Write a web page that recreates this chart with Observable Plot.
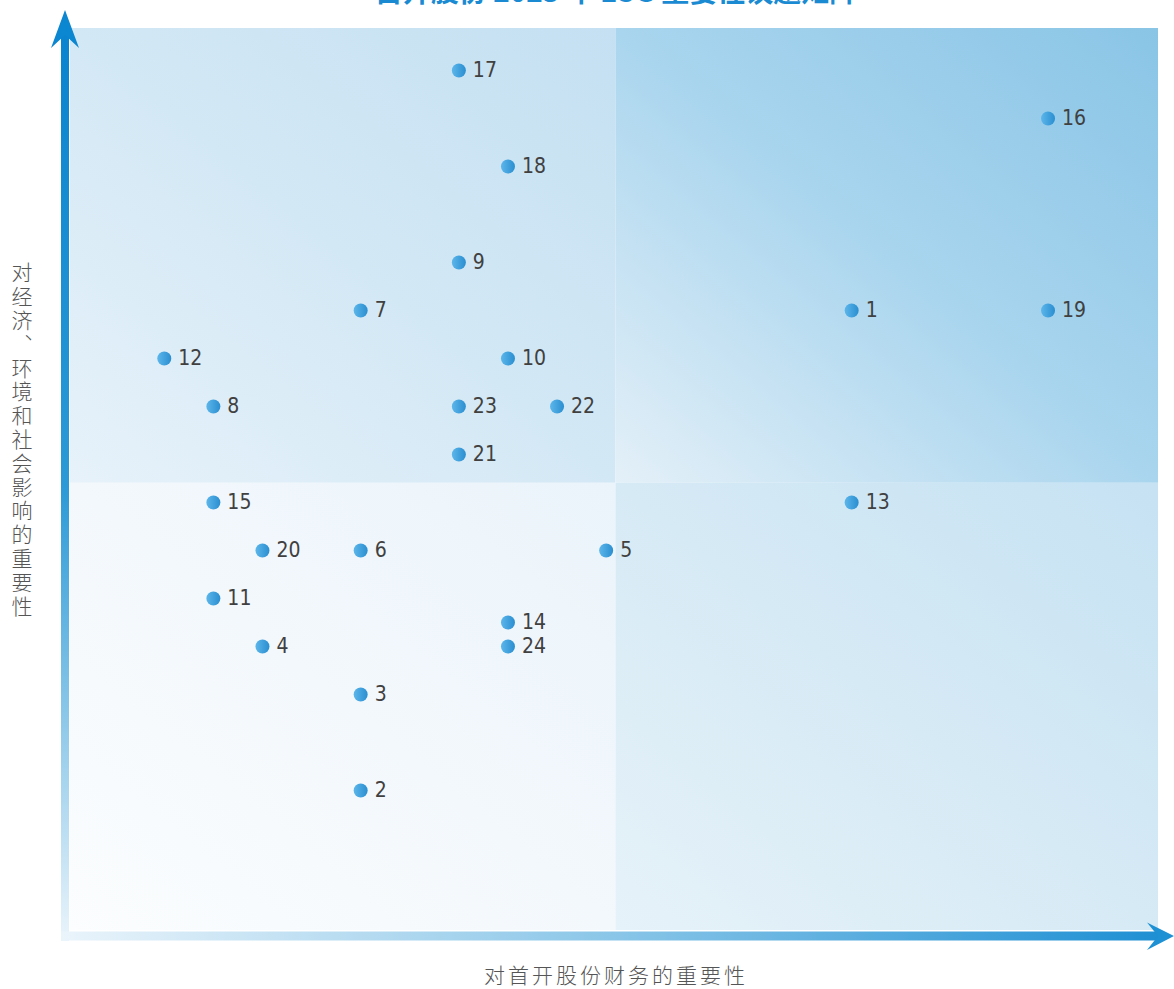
<!DOCTYPE html>
<html><head><meta charset="utf-8">
<script src="https://cdn.jsdelivr.net/npm/d3@7"></script>
<script src="https://cdn.jsdelivr.net/npm/@observablehq/plot@0.6"></script>
<style>
html,body{margin:0;padding:0;background:#fff;overflow:hidden}
#wrap{position:relative;width:1174px;height:989px}
#title{position:absolute;left:0;width:1232px;top:-24px;text-align:center;font:bold 28px/28px "Noto Sans CJK SC","Noto Sans",sans-serif;color:#1a8bd2;white-space:nowrap}
#ylab{position:absolute;left:11px;top:262px;writing-mode:vertical-rl;text-orientation:upright;font:300 21px/22px "Noto Sans CJK SC",sans-serif;letter-spacing:2.8px;color:#555}
#xlab{position:absolute;left:0;width:1232px;top:963px;text-align:center;font:300 21px/22px "Noto Sans CJK SC",sans-serif;letter-spacing:3px;color:#555;white-space:nowrap}
</style></head>
<body><div id="wrap"></div>
<script>
const titleText = "首开股份 2023 年 ESG 重要性议题矩阵";
const xLabel = "对首开股份财务的重要性";
const yLabel = "对经济、环境和社会影响的重要性";

const topicIds        = [1, 2, 3, 4, 5, 6, 7, 8, 9, 10, 11, 12, 13, 14, 15, 16, 17, 18, 19, 20, 21, 22, 23, 24];
const financialImp    = [16, 6, 6, 4, 11, 6, 6, 3, 8, 9, 3, 2, 16, 9, 3, 20, 8, 9, 20, 4, 8, 10, 8, 9];
const impactImp       = [13, 3, 5, 6, 8, 8, 13, 11, 14, 12, 7, 12, 9, 6.5, 9, 17, 18, 16, 13, 8, 10, 11, 11, 6];

const xDomain = [0.09, 22.25];
const yDomain = [0.083, 18.875];
const xSplit = 11.2;
const ySplit = 9.4;

const points = topicIds.map((id, i) => ({id, x: financialImp[i], y: impactImp[i]}));
const quadrants = [
  {q: "tl", x1: xDomain[0], x2: xSplit, y1: ySplit, y2: yDomain[1]},
  {q: "tr", x1: xSplit, x2: xDomain[1], y1: ySplit, y2: yDomain[1]},
  {q: "bl", x1: xDomain[0], x2: xSplit, y1: yDomain[0], y2: ySplit},
  {q: "br", x1: xSplit, x2: xDomain[1], y1: yDomain[0], y2: ySplit}
];

const gradients = [
  {id: "g-tl", x1: 0, y1: 1, x2: 1, y2: 0, stops: [[0, "#e7f2fa"], [0.5, "#d3e8f5"], [1, "#c4e0f2"]]},
  {id: "g-tr", x1: 0, y1: 1, x2: 1, y2: 0, stops: [[0, "#e4f0f8"], [0.5, "#a9d5ee"], [1, "#8ac5e6"]]},
  {id: "g-bl", x1: 0, y1: 1, x2: 1, y2: 0, stops: [[0, "#fbfdfe"], [0.5, "#f3f8fc"], [1, "#ebf4fb"]]},
  {id: "g-br", x1: 0, y1: 1, x2: 1, y2: 0, stops: [[0, "#e6f2f9"], [0.5, "#d6eaf5"], [1, "#c6e2f3"]]},
  {id: "g-dot", x1: 0, y1: 0, x2: 1, y2: 0, stops: [[0, "#5cb6ea"], [1, "#2a8ed0"]]},
  {id: "g-vax", x1: 0, y1: 0, x2: 0, y2: 1, stops: [[0, "#0a84cf"], [0.5, "#2b9ad6"], [1, "#eaf4fb"]]},
  {id: "g-hax", x1: 0, y1: 0, x2: 1, y2: 0, stops: [[0, "#eaf4fb"], [0.5, "#8ac6e8"], [1, "#1e8fd3"]]}
];

function defsMark() {
  const g = d3.create("svg:g");
  const defs = g.append("defs");
  for (const gr of gradients) {
    const lg = defs.append("linearGradient").attr("id", gr.id)
      .attr("x1", gr.x1).attr("y1", gr.y1).attr("x2", gr.x2).attr("y2", gr.y2);
    for (const [o, c] of gr.stops) lg.append("stop").attr("offset", o).attr("stop-color", c);
  }
  return g.node();
}

function axesMark(index, scales, values, dim) {
  const X = scales.x, Y = scales.y;
  const left = X(xDomain[0]), right = X(xDomain[1]);
  const top = Y(yDomain[1]), bottom = Y(yDomain[0]);
  const g = d3.create("svg:g");
  const vx = left - 5;
  const hy = bottom + 6;
  g.append("rect").attr("x", vx - 4).attr("y", top + 6).attr("width", 8).attr("height", hy + 5 - (top + 6)).attr("fill", "url(#g-vax)");
  g.append("rect").attr("x", vx - 4).attr("y", hy - 4.5).attr("width", right + 3 - (vx - 4)).attr("height", 9).attr("fill", "url(#g-hax)");
  const tipY = top - 18;
  g.append("path").attr("d", `M${vx},${tipY}L${vx + 14},${tipY + 38}L${vx},${tipY + 25}L${vx - 14},${tipY + 38}Z`).attr("fill", "#0b86d0");
  const tipX = dim.width;
  g.append("path").attr("d", `M${tipX},${hy}L${tipX - 27},${hy - 13.5}L${tipX - 16},${hy}L${tipX - 27},${hy + 14}Z`).attr("fill", "#1e90d4");
  return g.node();
}

const plot = Plot.plot({
  width: 1174,
  height: 989,
  marginLeft: 70,
  marginRight: 16,
  marginTop: 28,
  marginBottom: 59,
  x: {domain: xDomain, axis: null},
  y: {domain: yDomain, axis: null},
  style: {overflow: "visible", background: "transparent"},
  marks: [
    defsMark,
    ...quadrants.map(qd => Plot.rect([qd], {x1: "x1", x2: "x2", y1: "y1", y2: "y2", fill: `url(#g-${qd.q})`})),
    axesMark,
    Plot.dot(points, {x: "x", y: "y", r: 7, fill: "url(#g-dot)"}),
    Plot.text(points, {
      x: "x", y: "y", text: d => String(d.id), dx: 14, textAnchor: "start",
      fontSize: 21, fill: "#404040",
      fontFamily: "'Liberation Sans Narrow','DejaVu Sans Condensed',sans-serif"
    })
  ]
});

const wrap = document.getElementById("wrap");
wrap.appendChild(plot);
const t = document.createElement("div"); t.id = "title"; t.textContent = titleText; wrap.appendChild(t);
const yl = document.createElement("div"); yl.id = "ylab"; yl.textContent = yLabel; wrap.appendChild(yl);
const xl = document.createElement("div"); xl.id = "xlab"; xl.textContent = xLabel; wrap.appendChild(xl);
</script>
</body></html>
